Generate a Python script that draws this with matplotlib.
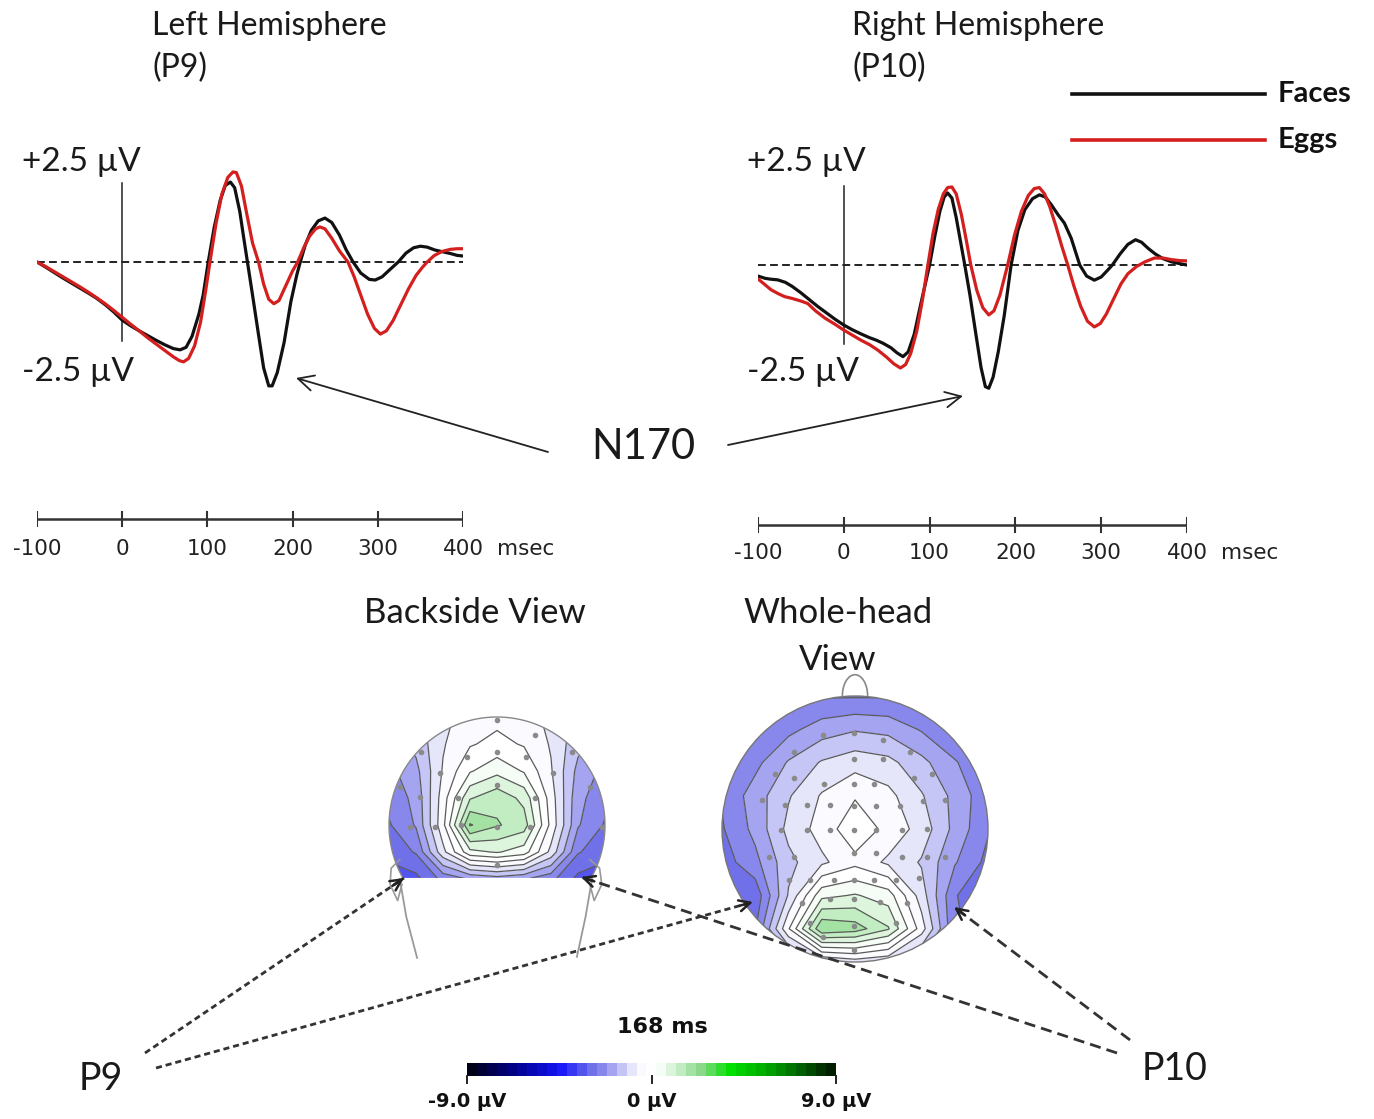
import numpy as np
import matplotlib
matplotlib.use("Agg")
import matplotlib.pyplot as plt
from matplotlib.colors import LinearSegmentedColormap, Normalize
from matplotlib.patches import Circle, Polygon, Arc

W, H = 1374, 1119

# ---------------- ERP data (µV) ----------------
left_faces_t = [-100,-90,-80,-70,-60,-50,-40,-30,-20,-10,0,10,20,30,40,50,60,68,75,82,90,95,101,108,115,121,127,132,138,143,147,153,160,166,172,176,182,190,198,205,209,215,222,230,238,246,255,263,271,280,290,297,305,315,324,333,342,350,358,367,375,385,393,400]
left_faces_v = [0.0,-0.16,-0.33,-0.50,-0.66,-0.82,-0.98,-1.15,-1.35,-1.58,-1.84,-2.02,-2.18,-2.33,-2.48,-2.62,-2.74,-2.78,-2.70,-2.35,-1.65,-1.05,0.0,1.10,1.95,2.42,2.53,2.35,1.60,0.70,0.0,-1.05,-2.30,-3.35,-3.92,-3.92,-3.50,-2.55,-1.25,-0.40,0.0,0.55,1.00,1.30,1.39,1.25,0.85,0.38,0.0,-0.35,-0.55,-0.57,-0.47,-0.22,0.0,0.28,0.45,0.50,0.47,0.38,0.33,0.27,0.21,0.19]

left_eggs_t = [-100,-90,-80,-70,-60,-50,-40,-30,-20,-10,0,10,20,30,40,50,60,67,72,78,85,92,98,103,110,117,124,130,134,140,146,153,160,166,172,178,184,192,200,206,213,220,227,232,238,246,255,265,272,280,288,296,303,310,318,327,336,345,352,358,366,375,385,393,400]
left_eggs_v = [0.0,-0.14,-0.30,-0.46,-0.62,-0.78,-0.95,-1.13,-1.32,-1.53,-1.75,-1.97,-2.18,-2.40,-2.60,-2.80,-3.00,-3.12,-3.16,-3.05,-2.65,-1.90,-0.90,0.0,1.20,2.15,2.68,2.85,2.83,2.40,1.55,0.60,0.0,-0.70,-1.18,-1.32,-1.22,-0.75,-0.28,0.0,0.45,0.82,1.05,1.11,1.05,0.75,0.35,0.0,-0.45,-1.05,-1.65,-2.10,-2.28,-2.18,-1.85,-1.35,-0.85,-0.42,-0.18,0.0,0.20,0.33,0.40,0.42,0.42]

right_faces_t = [-100,-92,-85,-77,-68,-60,-50,-40,-30,-20,-10,0,10,20,30,38,46,55,62,69,75,82,90,95,100,106,112,117,121,126,131,136,141,147,154,160,165,169,174,180,187,195,203,211,220,228,235,242,250,257,265,275,283,292,300,308,313,322,331,340,347,355,363,372,382,392,400]
right_faces_v = [-0.35,-0.42,-0.45,-0.47,-0.55,-0.68,-0.88,-1.10,-1.32,-1.52,-1.72,-1.90,-2.05,-2.18,-2.30,-2.38,-2.48,-2.62,-2.78,-2.90,-2.75,-2.20,-1.20,-0.60,0.0,0.90,1.70,2.15,2.28,2.12,1.50,0.75,0.0,-0.95,-2.20,-3.25,-3.85,-3.90,-3.55,-2.75,-1.60,0.0,1.10,1.75,2.10,2.22,2.15,1.90,1.58,1.33,0.85,0.0,-0.35,-0.48,-0.38,-0.15,0.0,0.35,0.65,0.80,0.72,0.52,0.35,0.20,0.10,0.04,0.0]

right_eggs_t = [-100,-92,-85,-77,-69,-60,-50,-42,-33,-22,-10,0,10,20,30,40,50,58,66,72,78,85,92,98,104,110,116,121,126,131,137,143,148,155,162,169,175,182,191,199,207,215,222,228,234,240,247,254,261,268,276,284,292,299,306,314,323,331,341,351,362,372,382,391,400]
right_eggs_v = [-0.44,-0.62,-0.78,-0.90,-1.00,-1.06,-1.14,-1.22,-1.45,-1.68,-1.88,-2.06,-2.22,-2.38,-2.52,-2.70,-2.92,-3.12,-3.26,-3.15,-2.80,-2.10,-1.05,0.0,1.00,1.75,2.25,2.45,2.47,2.25,1.60,0.75,0.0,-0.80,-1.35,-1.58,-1.45,-0.95,0.0,0.95,1.70,2.20,2.42,2.45,2.25,1.85,1.25,0.60,0.0,-0.65,-1.30,-1.78,-1.96,-1.85,-1.55,-1.10,-0.60,-0.28,-0.05,0.10,0.22,0.22,0.17,0.14,0.13]

time_ticks = [-100, 0, 100, 200, 300, 400]
amp_labels = ["+2.5 \u00b5V", "-2.5 \u00b5V"]
series_names = ["Faces", "Eggs"]
series_colors = ["#111111", "#d41f1f"]

# ---------------- topography data (µV at 168 ms) ----------------
grid_x = [-1.0, -0.75, -0.5, -0.25, 0.0, 0.25, 0.5, 0.75, 1.0]
grid_y = [1.0, 0.75, 0.5, 0.25, 0.0, -0.25, -0.5, -0.75, -1.0]
whole_head = [
    [-2.9, -2.9, -2.9, -2.8, -2.8, -2.8, -2.9, -2.9, -2.9],
    [-2.9, -2.8, -2.4, -2.0, -1.8, -1.9, -2.3, -2.7, -2.9],
    [-2.8, -2.4, -1.7, -1.2, -0.95, -1.1, -1.6, -2.2, -2.7],
    [-2.7, -2.0, -1.3, -0.7, -0.3, -0.6, -1.2, -1.9, -2.6],
    [-2.8, -2.1, -1.1, -0.55, 0.1, -0.4, -0.95, -1.9, -2.7],
    [-3.0, -2.4, -1.4, -0.85, -0.4, -0.85, -1.3, -2.2, -2.9],
    [-3.4, -3.1, -1.2, 0.6, 0.8, 0.5, -1.0, -2.7, -3.3],
    [-3.0, -2.8, -0.3, 2.2, 2.0, 1.3, -0.5, -2.7, -2.9],
    [-2.8, -2.7, -2.2, -1.3, -1.0, -1.2, -2.0, -2.6, -2.8],
]
backside = [
    [-1.6, -1.4, -0.9, -0.5, -0.4, -0.5, -0.9, -1.4, -1.6],
    [-2.0, -1.6, -0.8, -0.3, -0.1, -0.3, -0.8, -1.6, -2.0],
    [-2.4, -1.9, -0.7, 0.2, 0.6, 0.2, -0.7, -1.9, -2.4],
    [-2.6, -2.1, -0.5, 1.2, 1.6, 1.1, -0.5, -2.1, -2.6],
    [-2.8, -2.2, -0.4, 2.3, 1.8, 1.5, -0.4, -2.2, -2.8],
    [-3.1, -2.7, -0.9, 0.6, 0.8, 0.5, -0.9, -2.7, -3.1],
    [-3.5, -3.4, -2.6, -2.2, -2.0, -2.2, -2.6, -3.4, -3.5],
    [-3.5, -3.4, -2.6, -2.2, -2.0, -2.2, -2.6, -3.4, -3.5],
    [-3.5, -3.4, -2.6, -2.2, -2.0, -2.2, -2.6, -3.4, -3.5],
]
whole_elec_x = [-0.24,-0.01,0.21,-0.46,-0.01,0.21,0.41,-0.60,-0.46,-0.23,-0.01,0.14,0.44,0.58,-0.70,-0.53,-0.36,-0.19,-0.01,0.16,0.34,0.51,0.68,-0.56,-0.36,-0.19,-0.01,0.16,0.35,0.54,-0.65,-0.46,-0.01,0.16,0.35,0.54,0.68,-0.50,-0.34,-0.16,-0.01,0.14,0.31,0.48,-0.40,-0.19,-0.01,0.19,0.39,-0.34,-0.01,0.31,-0.24,-0.01]
whole_elec_y = [0.71,0.72,0.67,0.58,0.53,0.53,0.58,0.41,0.38,0.34,0.34,0.34,0.38,0.41,0.22,0.18,0.18,0.18,0.17,0.17,0.17,0.21,0.22,-0.01,-0.01,-0.01,-0.01,-0.01,-0.01,0.0,-0.21,-0.21,-0.18,-0.18,-0.21,-0.21,-0.21,-0.38,-0.38,-0.38,-0.38,-0.38,-0.38,-0.37,-0.56,-0.53,-0.53,-0.55,-0.56,-0.71,-0.73,-0.71,-0.81,-0.91]
back_elec_x = [0.0,0.35,0.0,-0.28,0.27,-0.70,0.69,-0.53,0.52,0.0,-0.36,0.35,-0.71,0.86,-0.57,0.0,0.31,-0.33,-0.81,0.97,0.0,-0.90]
back_elec_y = [0.97,0.83,0.68,0.63,0.63,0.68,0.68,0.48,0.48,0.37,0.25,0.25,0.26,0.35,-0.02,-0.02,-0.02,0.0,-0.02,-0.02,-0.37,0.35]

cbar_min, cbar_max = -9.0, 9.0
cbar_labels = ["-9.0 \u00b5V", "0 \u00b5V", "9.0 \u00b5V"]
cbar_ticks = [-9.0, 0.0, 9.0]
contour_levels = np.arange(-4.75, 4.76, 0.5)

# ---------------- colormap ----------------
nodes = [(-9, (0, 0, 25)), (-6.9, (0, 0, 140)), (-4.6, (20, 20, 250)), (-3.0, (112, 112, 232)),
         (-2.5, (135, 135, 236)), (-2.0, (165, 165, 241)), (-1.5, (198, 198, 246)),
         (-1.0, (232, 232, 251)), (-0.5, (252, 252, 255)), (0, (255, 255, 255)),
         (0.5, (248, 254, 248)), (1.0, (222, 245, 222)), (1.5, (195, 236, 195)),
         (2.0, (165, 226, 165)), (2.5, (140, 216, 140)), (4.0, (0, 225, 0)),
         (5.8, (0, 170, 0)), (7.2, (0, 110, 0)), (9, (0, 30, 0))]
cmap = LinearSegmentedColormap.from_list(
    "bwg", [((v + 9) / 18.0, tuple(c / 255 for c in col)) for v, col in nodes])
norm = Normalize(cbar_min, cbar_max)

LATO = ["Lato", "DejaVu Sans"]

fig = plt.figure(figsize=(W / 100, H / 100), dpi=100)


def px_axes(x0, y0, x1, y1, **kw):
    return fig.add_axes([x0 / W, 1 - y1 / H, (x1 - x0) / W, (y1 - y0) / H], **kw)


# ---------------- ERP panels ----------------
def erp_panel(x0, x1, base_y, faces, eggs):
    pxuv = 31.6
    y0, y1 = 140, 420
    ax = px_axes(x0, y0, x1, y1)
    ax.set_xlim(-100, 400)
    ax.set_ylim(-(y1 - base_y) / pxuv, (base_y - y0) / pxuv)
    ax.axis("off")
    ax.plot([-100, 400], [0, 0], color="#222222", lw=1.4, dashes=(4, 2.2))
    ax.plot([0, 0], [-2.5, 2.5], color="#222222", lw=1.1)
    ax.plot(*faces, color=series_colors[0], lw=2.3, solid_capstyle="round", solid_joinstyle="round")
    ax.plot(*eggs, color=series_colors[1], lw=2.3, solid_capstyle="round", solid_joinstyle="round")
    return ax


erp_panel(37, 463, 262, (left_faces_t, left_faces_v), (left_eggs_t, left_eggs_v))
erp_panel(758, 1187, 265, (right_faces_t, right_faces_v), (right_eggs_t, right_eggs_v))


def time_scale(x0, x1, line_y, label_dy):
    ax = px_axes(x0, line_y - 30, x1, line_y + 50)
    ax.set_xlim(-100, 400)
    ax.set_ylim(-50, 30)
    ax.axis("off")
    ax.plot([-100, 400], [0, 0], color="#333333", lw=1.8)
    for t in time_ticks:
        ax.plot([t, t], [-7, 7], color="#333333", lw=1.5)
        ax.text(t, -label_dy, str(t), ha="center", va="center", fontsize=15.5,
                family="DejaVu Sans", color="#222222", clip_on=False)
    ax.text(440, -label_dy, "msec", ha="left", va="center", fontsize=15.5,
            family="DejaVu Sans", color="#222222", clip_on=False)


time_scale(37, 463, 519, 30)
time_scale(758, 1187, 525, 28)

# ---------------- topographic maps ----------------
GX, GY = np.meshgrid(grid_x, grid_y)


def draw_topo(ax, grid, clip_patch, ex, ey):
    Z = np.array(grid)
    cf = ax.contourf(GX, GY, Z, levels=contour_levels, cmap=cmap, norm=norm, extend="both")
    cl = ax.contour(GX, GY, Z, levels=contour_levels, colors="#5a5a5a", linewidths=0.9,
                    linestyles="solid")
    cf.set_clip_path(clip_patch)
    cl.set_clip_path(clip_patch)
    sc = ax.scatter(ex, ey, s=9, color="#8a8a8a", zorder=5)
    sc.set_clip_path(clip_patch)


# whole-head view: centre (855, 829), radius 133 px
r_w = 133.0
axw = px_axes(705, 668, 1005, 990)
axw.set_xlim((705 - 855) / r_w, (1005 - 855) / r_w)
axw.set_ylim(-(990 - 829) / r_w, (829 - 668) / r_w)
axw.axis("off")
clip_w = Circle((0, 0), 1.0, transform=axw.transData, facecolor="none")
axw.add_patch(Circle((0, 0), 1.0, facecolor="none", edgecolor="#777777", lw=1.0, zorder=6))
draw_topo(axw, whole_head, clip_w, whole_elec_x, whole_elec_y)
axw.add_patch(Arc((0, 1.0), 0.19, 0.32, theta1=0, theta2=180, color="#888888", lw=1.2))

# backside view: centre (497, 825), radius 108 px, cut at y = -0.49
r_b = 108.0
axb = px_axes(367, 695, 627, 975)
axb.set_xlim((367 - 497) / r_b, (627 - 497) / r_b)
axb.set_ylim(-(975 - 825) / r_b, (825 - 695) / r_b)
axb.axis("off")
cut = -0.49
a0 = np.arcsin(cut)
th = np.linspace(a0, np.pi - a0, 200)
outline = np.column_stack([np.cos(th), np.sin(th)])
clip_b = Polygon(outline, closed=True, transform=axb.transData, facecolor="none")
draw_topo(axb, backside, clip_b, back_elec_x, back_elec_y)
axb.plot(outline[:, 0], outline[:, 1], color="#888888", lw=1.0, zorder=6)
# neck and ears
axb.plot([-0.90, -0.84, -0.74], [-0.50, -0.85, -1.23], color="#999999", lw=1.3)
axb.plot([0.88, 0.82, 0.74], [-0.50, -0.85, -1.22], color="#999999", lw=1.3)
axb.plot([-0.90, -0.98, -0.99, -0.92, -0.88], [-0.32, -0.40, -0.55, -0.70, -0.55],
         color="#999999", lw=1.2)
axb.plot([0.86, 0.95, 0.97, 0.90, 0.86], [-0.32, -0.40, -0.55, -0.70, -0.55],
         color="#999999", lw=1.2)

# colour bar
axc = px_axes(467, 1063, 836, 1076)
vals = np.linspace(cbar_min, cbar_max, 37)
axc.imshow(vals[None, :], extent=(cbar_min, cbar_max, 0, 1), aspect="auto",
           cmap=cmap, norm=norm, interpolation="nearest")
axc.set_xlim(cbar_min, cbar_max)
axc.set_ylim(0, 1)
axc.axis("off")
for tv, lab in zip(cbar_ticks, cbar_labels):
    axc.plot([tv, tv], [0, -0.55], color="#222222", lw=1.4, clip_on=False)
    axc.text(tv, -1.95, lab, ha="center", va="center", fontsize=14, fontweight="bold",
             family="DejaVu Sans", color="#111111", clip_on=False)

# ---------------- overlay: text, arrows, legend ----------------
ov = fig.add_axes([0, 0, 1, 1], zorder=20)
ov.set_xlim(0, W)
ov.set_ylim(H, 0)
ov.axis("off")
ov.patch.set_alpha(0)

tkw = dict(family=LATO, color="#1a1a1a")
ov.text(152, 26, "Left Hemisphere", fontsize=23, ha="left", va="center", **tkw)
ov.text(152, 68, "(P9)", fontsize=23, ha="left", va="center", **tkw)
ov.text(852, 26, "Right Hemisphere", fontsize=23, ha="left", va="center", **tkw)
ov.text(852, 68, "(P10)", fontsize=23, ha="left", va="center", **tkw)

for xl in (22, 747):
    ov.text(xl, 162, amp_labels[0], fontsize=24, ha="left", va="center", **tkw)
    ov.text(xl, 372, amp_labels[1], fontsize=24, ha="left", va="center", **tkw)

# legend
for i, (name, col) in enumerate(zip(series_names, series_colors)):
    yy = 94 + 46 * i
    ov.plot([1072, 1265], [yy, yy], color=col, lw=2.6)
    ov.text(1278, yy, name, fontsize=21, fontweight="bold", ha="left", va="center",
            family=LATO, color="#111111")

# N170 and arrows
ov.text(643, 447, "N170", fontsize=30, ha="center", va="center", **tkw)
ov.annotate("", xy=(296, 378), xytext=(548, 452),
            arrowprops=dict(arrowstyle="->", lw=1.3, color="#222222", mutation_scale=28,
                            shrinkA=0, shrinkB=0))
ov.annotate("", xy=(963, 396), xytext=(728, 445),
            arrowprops=dict(arrowstyle="->", lw=1.3, color="#222222", mutation_scale=28,
                            shrinkA=0, shrinkB=0))

# view titles
ov.text(475, 613, "Backside View", fontsize=25, ha="center", va="center", **tkw)
ov.text(838, 613, "Whole-head", fontsize=25, ha="center", va="center", **tkw)
ov.text(838, 660, "View", fontsize=25, ha="center", va="center", **tkw)
ov.text(662, 1027, "168 ms", fontsize=16, fontweight="bold", ha="center", va="center",
        family="DejaVu Sans", color="#111111")

# electrode labels and dashed pointers
ov.text(101, 1079, "P9", fontsize=27, ha="center", va="center", **tkw)
ov.text(1175, 1069, "P10", fontsize=27, ha="center", va="center", **tkw)


def pointer(start, tip, dashes):
    (x0, y0), (x1, y1) = start, tip
    ov.plot([x0, x1], [y0, y1], color="#333333", lw=2.0, dashes=dashes)
    d = np.hypot(x1 - x0, y1 - y0)
    ux, uy = (x1 - x0) / d, (y1 - y0) / d
    ov.annotate("", xy=(x1, y1), xytext=(x1 - 14 * ux, y1 - 14 * uy),
                arrowprops=dict(arrowstyle="->", lw=1.8, color="#222222",
                                mutation_scale=20, shrinkA=0, shrinkB=0))


pointer((145, 1053), (404, 878), (2.2, 1.4))
pointer((156, 1068), (753, 902), (2.2, 1.4))
pointer((1117, 1053), (581, 877), (4.0, 2.2))
pointer((1130, 1040), (954, 907), (4.0, 2.2))

fig.savefig("out.png", dpi=100, facecolor="white")
